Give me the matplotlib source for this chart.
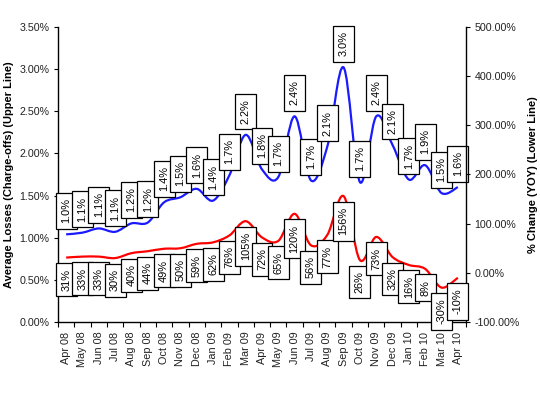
import numpy as np
import matplotlib
matplotlib.use("Agg")
import matplotlib.pyplot as plt
from matplotlib.path import Path
from matplotlib.patches import PathPatch
from matplotlib.ticker import FuncFormatter, MultipleLocator, FixedLocator

plt.rcParams['font.family'] = ['Liberation Sans', 'DejaVu Sans']

months = ["Apr 08", "May 08", "Jun 08", "Jul 08", "Aug 08", "Sep 08", "Oct 08",
          "Nov 08", "Dec 08", "Jan 09", "Feb 09", "Mar 09", "Apr 09", "May 09",
          "Jun 09", "Jul 09", "Aug 09", "Sep 09", "Oct 09", "Nov 09", "Dec 09",
          "Jan 10", "Feb 10", "Mar 10", "Apr 10"]
# Average losses (charge-offs), percent
losses = [1.04, 1.06, 1.11, 1.07, 1.17, 1.18, 1.42, 1.48, 1.58, 1.44, 1.74, 2.22,
          1.81, 1.72, 2.44, 1.68, 2.08, 3.02, 1.66, 2.44, 2.10, 1.69, 1.86, 1.53, 1.60]
# % change year over year
yoy = [31, 33, 33, 30, 40, 44, 49, 50, 59, 62, 76, 105, 72, 65, 120, 56, 77, 156,
       26, 73, 32, 16, 8, -30, -10]


def smooth_path(xs, ys):
    pts = np.column_stack([xs, ys]).astype(float)
    n = len(pts)
    verts = [pts[0]]
    codes = [Path.MOVETO]
    for i in range(n - 1):
        p0 = pts[i - 1] if i > 0 else pts[i]
        p1 = pts[i]
        p2 = pts[i + 1]
        p3 = pts[i + 2] if i + 2 < n else pts[i + 1]
        c1 = p1 + (p2 - p0) / 6.0
        c2 = p2 - (p3 - p1) / 6.0
        verts += [c1, c2, p2]
        codes += [Path.CURVE4] * 3
    return Path(verts, codes)


fig = plt.figure(figsize=(5.4, 3.95), dpi=100)
ax1 = fig.add_axes([58 / 540, 1 - 322 / 395, 408 / 540, 295 / 395])
ax2 = ax1.twinx()

x = np.arange(len(months))

ax1.add_patch(PathPatch(smooth_path(x, losses), facecolor='none',
                        edgecolor='#1a1aff', lw=1.6, zorder=2))
ax2.add_patch(PathPatch(smooth_path(x, yoy), facecolor='none',
                        edgecolor='#ff0000', lw=1.6, zorder=2))

ax1.set_xlim(-0.5, len(months) - 0.5)
ax1.set_ylim(0, 3.5)
ax2.set_ylim(-100, 500)

ax1.yaxis.set_major_locator(MultipleLocator(0.5))
ax1.yaxis.set_major_formatter(FuncFormatter(lambda v, p: f"{v:.2f}%"))
ax2.yaxis.set_major_locator(MultipleLocator(100))
ax2.yaxis.set_major_formatter(FuncFormatter(lambda v, p: f"{v:.2f}%"))

ax1.set_xticks(x)
ax1.set_xticklabels(months, rotation=90)
ax1.xaxis.set_minor_locator(FixedLocator(np.arange(-0.5, len(months), 1.0)))
ax1.tick_params(axis='x', which='major', length=0, pad=7, labelsize=7.8, colors='#222222')
ax1.tick_params(axis='x', which='minor', length=3.5, width=0.8, color='black')
ax1.tick_params(axis='y', length=3, width=0.8, pad=3, labelsize=7.7, labelcolor='#222222')
ax2.tick_params(axis='y', length=3, width=0.8, pad=3, labelsize=7.7, labelcolor='#222222')

for s in ['top', 'right']:
    ax1.spines[s].set_visible(False)
for s in ['top', 'left', 'bottom']:
    ax2.spines[s].set_visible(False)
for ax in (ax1, ax2):
    for s in ax.spines.values():
        s.set_linewidth(1.0)

ax1.set_ylabel("Average Losses (Charge-offs) (Upper Line)", fontsize=8,
               fontweight='bold', labelpad=4)
ax2.set_ylabel("% Change (YOY) (Lower Line)", fontsize=8, fontweight='bold',
               labelpad=6)

box = dict(boxstyle='square,pad=0.5', facecolor='white', edgecolor='black', lw=0.9)
for xi, v in zip(x, losses):
    ax1.annotate(f"{v:.1f}%", (xi, v), xytext=(0, 11), textcoords='offset pixels',
                 rotation=90, ha='center', va='bottom', fontsize=7.9,
                 bbox=box, annotation_clip=False, zorder=5)
for xi, v in zip(x, yoy):
    ax2.annotate(f"{v:.0f}%", (xi, v), xytext=(0, -11), textcoords='offset pixels',
                 rotation=90, ha='center', va='top', fontsize=7.9,
                 bbox=box, annotation_clip=False, zorder=5)

fig.savefig("out.png", dpi=100)
